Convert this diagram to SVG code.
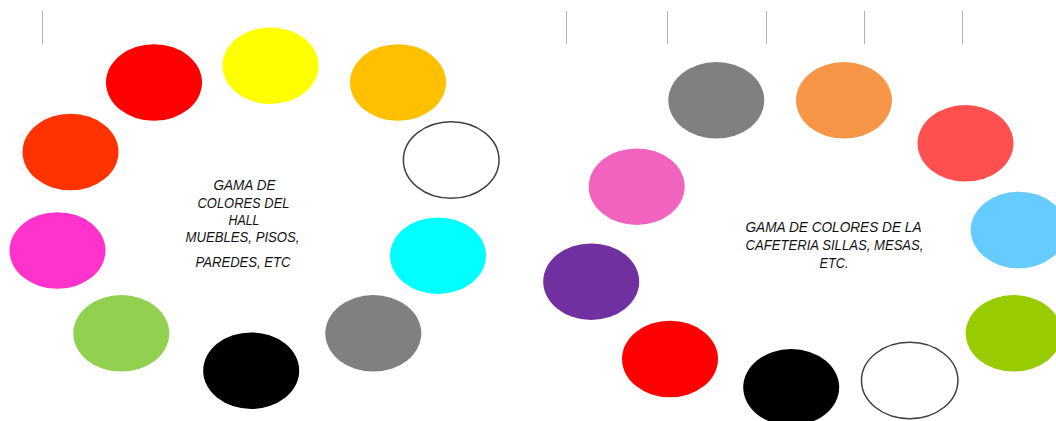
<svg xmlns="http://www.w3.org/2000/svg" width="1056" height="421" viewBox="0 0 1056 421">
<style>
.c{stroke:none}
.w{fill:#ffffff;stroke:#404040;stroke-width:1.5}
.t{font-family:"Liberation Sans",Arial,sans-serif;font-style:italic;font-size:15px;fill:#111111;text-anchor:middle}
.g{stroke:#b4b4b4;stroke-width:1}
</style>
<rect width="1056" height="421" fill="#ffffff"/>
<g id="rulers">
<line class="g" x1="42.5" y1="11" x2="42.5" y2="44"/>
<line class="g" x1="566.5" y1="11" x2="566.5" y2="44"/>
<line class="g" x1="667.5" y1="11" x2="667.5" y2="44"/>
<line class="g" x1="766.5" y1="11" x2="766.5" y2="44"/>
<line class="g" x1="864.5" y1="11" x2="864.5" y2="44"/>
<line class="g" x1="962.5" y1="11" x2="962.5" y2="44"/>
</g>
<g id="hall">
<g id="h-red"><ellipse class="c" cx="154" cy="82.5" rx="48" ry="38.3" fill="#ff0000"/></g>
<g id="h-yellow"><ellipse class="c" cx="270.5" cy="65.7" rx="48" ry="38.3" fill="#ffff00"/></g>
<g id="h-orange"><ellipse class="c" cx="398" cy="82.5" rx="48" ry="38.3" fill="#ffc000"/></g>
<g id="h-white"><ellipse class="w" cx="451.2" cy="160" rx="47.8" ry="38.3"/></g>
<g id="h-orangered"><ellipse class="c" cx="70.5" cy="152" rx="48" ry="38.3" fill="#ff3300"/></g>
<g id="h-magenta"><ellipse class="c" cx="57.5" cy="250.5" rx="48" ry="38.3" fill="#ff33cc"/></g>
<g id="h-cyan"><ellipse class="c" cx="438" cy="255.7" rx="48" ry="38.3" fill="#00ffff"/></g>
<g id="h-green"><ellipse class="c" cx="121.3" cy="333.3" rx="48" ry="38.3" fill="#92d050"/></g>
<g id="h-gray"><ellipse class="c" cx="373.3" cy="333.3" rx="48" ry="38.3" fill="#808080"/></g>
<g id="h-black"><ellipse class="c" cx="251.2" cy="370.7" rx="48" ry="38.3" fill="#000000"/></g>
<g id="h-label">
<text class="t" x="244.5" y="190" textLength="62" lengthAdjust="spacingAndGlyphs">GAMA DE</text>
<text class="t" x="243.5" y="207.5" textLength="92" lengthAdjust="spacingAndGlyphs">COLORES DEL</text>
<text class="t" x="244" y="225" textLength="31" lengthAdjust="spacingAndGlyphs">HALL</text>
<text class="t" x="242.5" y="242" textLength="114" lengthAdjust="spacingAndGlyphs">MUEBLES, PISOS,</text>
<text class="t" x="243" y="267" textLength="95" lengthAdjust="spacingAndGlyphs">PAREDES, ETC</text>
</g>
</g>
<g id="cafeteria">
<g id="c-gray"><ellipse class="c" cx="716.3" cy="100.3" rx="48" ry="38.3" fill="#808080"/></g>
<g id="c-orange"><ellipse class="c" cx="844" cy="100.3" rx="48" ry="38.3" fill="#f79646"/></g>
<g id="c-coral"><ellipse class="c" cx="965.5" cy="143.3" rx="48" ry="38.3" fill="#ff5050"/></g>
<g id="c-pink"><ellipse class="c" cx="636.7" cy="186.7" rx="48" ry="38.3" fill="#f064c0"/></g>
<g id="c-lightblue"><ellipse class="c" cx="1018.7" cy="230" rx="48" ry="38.3" fill="#66ccff"/></g>
<g id="c-purple"><ellipse class="c" cx="591.2" cy="281.7" rx="48" ry="38.3" fill="#7030a0"/></g>
<g id="c-green"><ellipse class="c" cx="1013.7" cy="333.3" rx="48" ry="38.3" fill="#99cc00"/></g>
<g id="c-red"><ellipse class="c" cx="670" cy="359" rx="48" ry="38.3" fill="#ff0000"/></g>
<g id="c-black"><ellipse class="c" cx="791.2" cy="387.3" rx="48" ry="38.3" fill="#000000"/></g>
<g id="c-white"><ellipse class="w" cx="909.7" cy="380.5" rx="48.2" ry="38.2"/></g>
<g id="c-label">
<text class="t" x="833.5" y="231.5" textLength="176" lengthAdjust="spacingAndGlyphs">GAMA DE COLORES DE LA</text>
<text class="t" x="834.5" y="250" textLength="178" lengthAdjust="spacingAndGlyphs">CAFETERIA SILLAS, MESAS,</text>
<text class="t" x="834" y="268.3" textLength="29" lengthAdjust="spacingAndGlyphs">ETC.</text>
</g>
</g>
</svg>
